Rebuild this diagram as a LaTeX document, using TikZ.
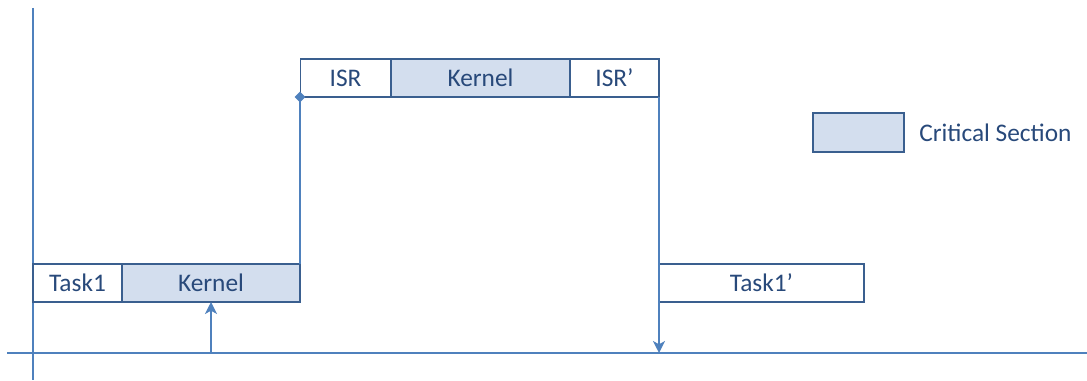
\documentclass[tikz,border=0pt]{standalone}
\usepackage{fontspec}
\setmainfont{Carlito}
\usetikzlibrary{arrows.meta,shapes.geometric}
\definecolor{axisblue}{HTML}{4F81BD}
\definecolor{boxborder}{HTML}{3A5F8F}
\definecolor{critfill}{HTML}{D3DEEE}
\definecolor{txt}{HTML}{28497A}
\tikzset{
  seg/.style={draw=boxborder, line width=1.3pt, inner sep=0pt, outer sep=0pt,
    minimum height=28.5pt, text=txt, font=\fontsize{19}{21}\selectfont},
  crit/.style={seg, fill=critfill},
  axis/.style={draw=axisblue, line width=1.2pt},
  arr/.style={axis, -{Stealth[length=9pt,width=9pt,inset=2.5pt]}},
}
\begin{document}
\begin{tikzpicture}[x=0.75pt,y=-0.75pt]
\useasboundingbox (0,0) rectangle (1087,381);
% axes
\coordinate (vtop) at (33,8);
\coordinate (vbot) at (33,380);
\coordinate (hl) at (7,353);
\coordinate (hr) at (1087,353);
\draw[axis] (vtop) -- (vbot);
\draw[axis] (hl) -- (hr);
% low boxes
\node[seg, minimum width=66.75pt] (task1) at (77.5,283) {Task1};
\node[crit, minimum width=133.5pt] (kern1) at (211,283) {Kernel};
% high boxes
\node[seg, minimum width=67.5pt] (isr) at (345.5,78) {ISR};
\node[crit, minimum width=134.25pt] (kern2) at (480.5,78) {Kernel};
\node[seg, minimum width=66.75pt] (isr2) at (614.5,78) {ISR’};
\node[seg, minimum width=153.75pt] (task1b) at (761.5,283) {Task1’};
% connectors
\coordinate (up0) at (kern1.south |- hl);
\draw[arr] (up0) -- (kern1.south);
\coordinate (risetop) at (kern1.north east |- isr.south);
\draw[axis] (kern1.north east) -- (risetop);
\node[diamond, fill=axisblue, draw=axisblue, inner sep=0pt, minimum size=7.5pt] (dia) at (risetop) {};
\coordinate (down0) at (isr2.south east |- hl);
\draw[arr] (isr2.south east) -- (down0);
% legend
\node[crit, minimum width=68pt, minimum height=29pt] (leg) at (858.5,132.5) {};
\node[anchor=west, text=txt, font=\fontsize{19}{21}\selectfont, inner sep=0pt] (legt) at (919,132.5) {Critical Section};
\end{tikzpicture}
\end{document}
